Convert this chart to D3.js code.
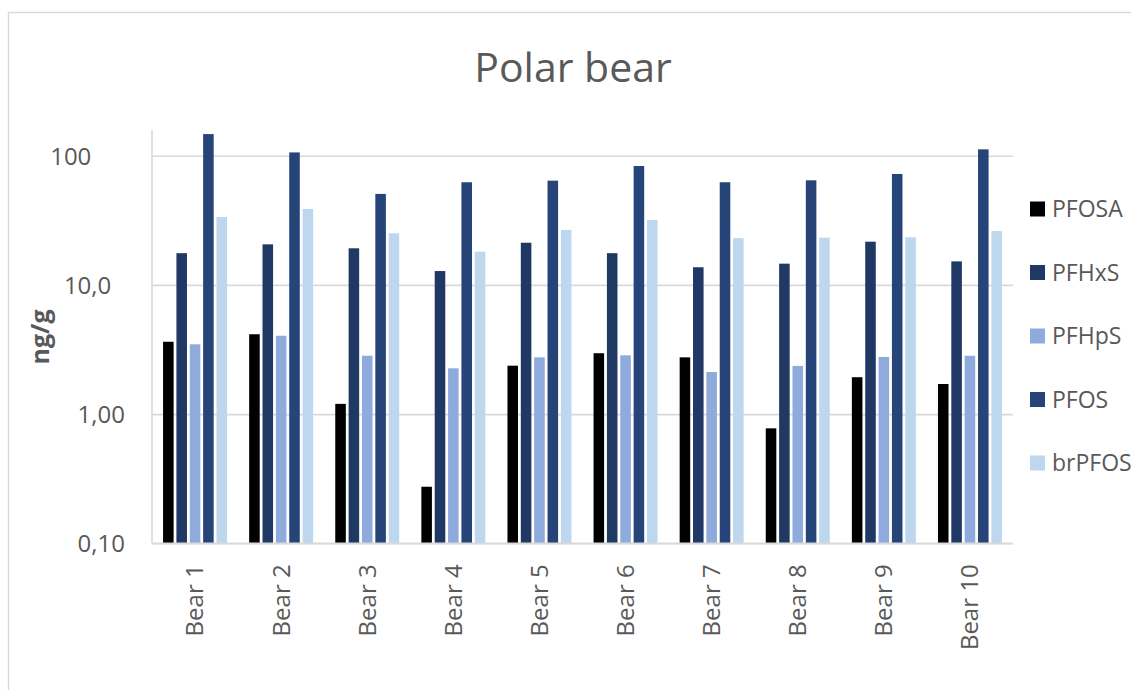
<!DOCTYPE html>
<html>
<head>
<meta charset="utf-8">
<script src="https://cdn.jsdelivr.net/npm/d3@7"></script>
<style>
  html, body { margin: 0; padding: 0; background: #ffffff; }
  svg { display: block; }
  text { font-family: "Open Sans", sans-serif; }
</style>
</head>
<body>
<svg id="chart" width="1131" height="690"></svg>
<script>
// PFAS concentrations (ng/g) in ten polar bears
const bears = ["Bear 1", "Bear 2", "Bear 3", "Bear 4", "Bear 5", "Bear 6", "Bear 7", "Bear 8", "Bear 9", "Bear 10"];
const compounds = ["PFOSA", "PFHxS", "PFHpS", "PFOS", "brPFOS"];
const PFOSA  = [3.63, 4.15, 1.20, 0.274, 2.37, 2.96, 2.75, 0.776, 1.93, 1.71];
const PFHxS  = [17.6, 20.6, 19.2, 12.8, 21.2, 17.6, 13.7, 14.6, 21.6, 15.2];
const PFHpS  = [3.47, 4.04, 2.83, 2.26, 2.75, 2.85, 2.12, 2.36, 2.77, 2.83];
const PFOS   = [147, 106, 50.6, 62.3, 64.1, 83.2, 62.3, 64.5, 72.2, 112];
const brPFOS = [33.5, 38.7, 25.1, 18.1, 26.6, 31.8, 23.0, 23.2, 23.4, 26.1];
const yTicks = [0.1, 1, 10, 100];
const yTickLabels = ["0,10", "1,00", "10,0", "100"];
const colors = ["#000000", "#203864", "#8faadc", "#264478", "#bdd7ee"];

const seriesValues = [PFOSA, PFHxS, PFHpS, PFOS, brPFOS];
const rows = bears.map((b, i) => ({
  bear: b,
  values: compounds.map((c, k) => ({ key: c, value: seriesValues[k][i] }))
}));

const svg = d3.select("#chart");
const W = 1131, H = 690;

// chart frame
svg.append("rect")
  .attr("x", 8.5).attr("y", 12.5)
  .attr("width", W + 20).attr("height", H + 20)
  .attr("fill", "#ffffff")
  .attr("stroke", "#d9d9d9").attr("stroke-width", 1.5);

// plot area
const plotLeft = 152, plotRight = 1013, plotTop = 130, plotBottom = 543.3;
const decadePx = 129.2;

const y = d3.scaleLog()
  .domain([0.1, 100])
  .range([plotBottom, plotBottom - 3 * decadePx]);

const x0 = d3.scaleBand()
  .domain(bears)
  .range([plotLeft, plotRight])
  .paddingInner(0.257)
  .paddingOuter(0.1285);

const x1 = d3.scaleBand()
  .domain(compounds)
  .range([0, x0.bandwidth()])
  .paddingInner(0.21)
  .paddingOuter(0);

const color = d3.scaleOrdinal().domain(compounds).range(colors);

// horizontal gridlines
const grid = svg.append("g")
  .attr("transform", `translate(${plotLeft},0)`)
  .call(d3.axisLeft(y).tickValues(yTicks).tickSize(-(plotRight - plotLeft)).tickFormat(""));
grid.select(".domain").remove();
grid.selectAll(".tick line").attr("stroke", "#d9d9d9").attr("stroke-width", 1.6);

// vertical axis line
svg.append("line")
  .attr("x1", plotLeft).attr("x2", plotLeft)
  .attr("y1", plotTop).attr("y2", plotBottom)
  .attr("stroke", "#d9d9d9").attr("stroke-width", 1.6);

// bars
const groups = svg.append("g").selectAll("g")
  .data(rows)
  .join("g")
  .attr("transform", d => `translate(${x0(d.bear)},0)`);

groups.selectAll("rect")
  .data(d => d.values)
  .join("rect")
  .attr("x", d => x1(d.key))
  .attr("width", x1.bandwidth())
  .attr("y", d => y(d.value))
  .attr("height", d => y(0.1) - y(d.value))
  .attr("fill", d => color(d.key));

// horizontal axis line
svg.append("line")
  .attr("x1", plotLeft).attr("x2", plotRight)
  .attr("y1", plotBottom).attr("y2", plotBottom)
  .attr("stroke", "#d9d9d9").attr("stroke-width", 1.8);

// y tick labels: numbers share the two-decimal column, so shorter forms sit further left
const yAxis = svg.append("g")
  .attr("transform", `translate(${plotLeft - 27},0)`)
  .call(d3.axisLeft(y).tickValues(yTicks).tickSize(0).tickPadding(0)
    .tickFormat((d, i) => yTickLabels[i]));
yAxis.select(".domain").remove();
yAxis.selectAll(".tick text")
  .attr("fill", "#595959")
  .style("font-size", "24px")
  .attr("dy", "0.35em")
  .attr("x", 0)
  .each(function (d) {
    const full = d3.format(".2f")(d).replace(".", ",");
    const shown = this.textContent;
    const probe = yAxis.append("text").style("font-size", "24px").text(full);
    const fullW = probe.node().getComputedTextLength();
    probe.text(shown);
    const shownW = probe.node().getComputedTextLength();
    probe.remove();
    d3.select(this).attr("x", -(fullW - shownW));
  });

// x tick labels (rotated)
const xAxis = svg.append("g")
  .attr("transform", `translate(0,${plotBottom})`)
  .call(d3.axisBottom(x0).tickSize(0).tickPadding(0));
xAxis.select(".domain").remove();
xAxis.selectAll(".tick text")
  .attr("fill", "#595959")
  .style("font-size", "24px")
  .attr("text-anchor", "end")
  .attr("transform", "translate(0,21) rotate(-90)")
  .attr("x", 0).attr("y", 0)
  .attr("dy", "0.35em");

// y axis title
svg.append("text")
  .attr("transform", "translate(40,337) rotate(-90)")
  .attr("text-anchor", "middle")
  .attr("dy", "0.35em")
  .attr("fill", "#595959")
  .style("font-size", "25px")
  .style("font-weight", "bold")
  .text("ng/g");

// title
svg.append("text")
  .attr("x", 573).attr("y", 82)
  .attr("text-anchor", "middle")
  .attr("fill", "#595959")
  .style("font-size", "41px")
  .text("Polar bear");

// legend
const legend = svg.append("g").attr("transform", "translate(1030,209)");
const item = legend.selectAll("g")
  .data(compounds)
  .join("g")
  .attr("transform", (d, i) => `translate(0,${i * 63.5})`);
item.append("rect")
  .attr("x", 0).attr("y", -7.5)
  .attr("width", 15).attr("height", 15)
  .attr("fill", d => color(d));
item.append("text")
  .attr("x", 22).attr("y", 0)
  .attr("dy", "0.35em")
  .attr("fill", "#595959")
  .style("font-size", "23px")
  .text(d => d);
</script>
</body>
</html>
